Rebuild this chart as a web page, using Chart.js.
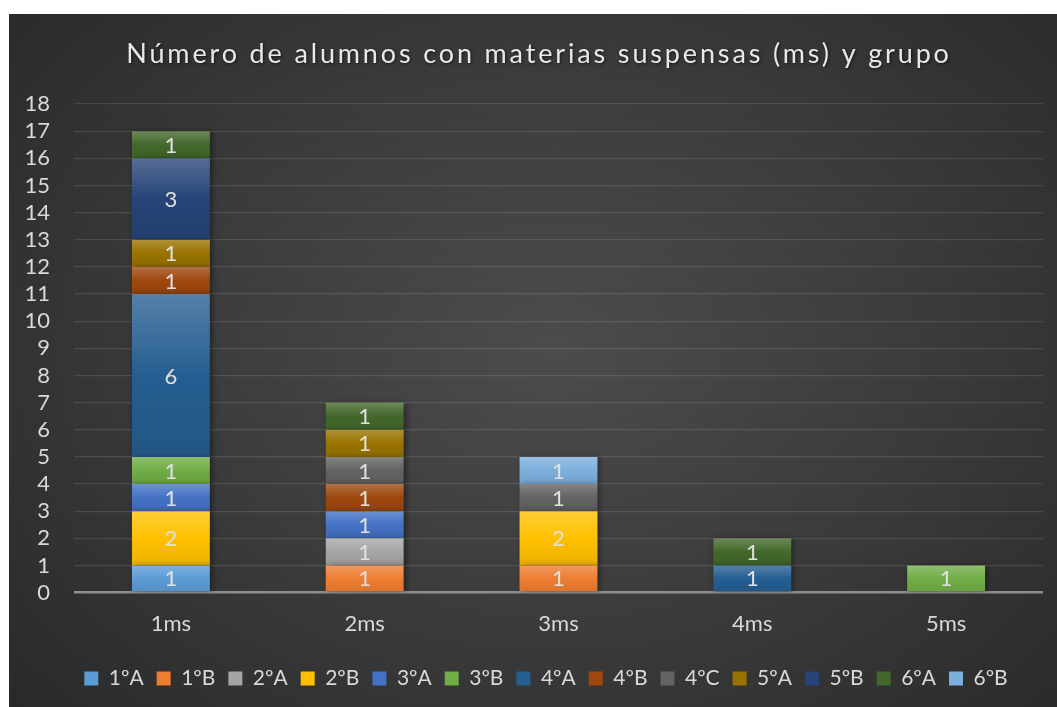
<!DOCTYPE html>
<html>
<head>
<meta charset="utf-8">
<script src="https://cdn.jsdelivr.net/npm/chart.js@4.4.1/dist/chart.umd.min.js"></script>
<style>
  html, body { margin: 0; padding: 0; background: #ffffff; }
  #wrap {
    position: absolute; left: 9px; top: 14px; width: 1048px; height: 693px;
    background: radial-gradient(ellipse 75% 85% at 52% 48%, #4c4c4c 0%, #3c3c3c 45%, #262626 100%);
  }
  canvas { display: block; }
</style>
</head>
<body>
<div id="wrap"><canvas id="c" width="1048" height="693"></canvas></div>
<script>
// ---- Data ----
const chartTitle = "Número de alumnos con materias suspensas (ms) y grupo";
const categories = ["1ms", "2ms", "3ms", "4ms", "5ms"];
const seriesNames = ["1ºA", "1ºB", "2ºA", "2ºB", "3ºA", "3ºB", "4ºA", "4ºB", "4ºC", "5ºA", "5ºB", "6ºA", "6ºB"];
const s1A = [1, 0, 0, 0, 0];
const s1B = [0, 1, 1, 0, 0];
const s2A = [0, 1, 0, 0, 0];
const s2B = [2, 0, 2, 0, 0];
const s3A = [1, 1, 0, 0, 0];
const s3B = [1, 0, 0, 0, 1];
const s4A = [6, 0, 0, 1, 0];
const s4B = [1, 1, 0, 0, 0];
const s4C = [0, 1, 1, 0, 0];
const s5A = [1, 1, 0, 0, 0];
const s5B = [3, 0, 0, 0, 0];
const s6A = [1, 1, 0, 1, 0];
const s6B = [0, 0, 1, 0, 0];
const seriesValues = [s1A, s1B, s2A, s2B, s3A, s3B, s4A, s4B, s4C, s5A, s5B, s6A, s6B];
const yTicks = [0, 1, 2, 3, 4, 5, 6, 7, 8, 9, 10, 11, 12, 13, 14, 15, 16, 17, 18];

// ---- Styles ----
const seriesColors = ["#5B9BD5", "#ED7D31", "#A5A5A5", "#FFC000", "#4472C4", "#70AD47",
                      "#255E91", "#9E480E", "#636363", "#997300", "#264478", "#43682B", "#7CAFDD"];
const FONT = "Lato, 'Open Sans', sans-serif";
const TEXT = "#d9d9d9";

function hexToRgb(h) {
  const n = parseInt(h.slice(1), 16);
  return [(n >> 16) & 255, (n >> 8) & 255, n & 255];
}
function mix(h, target, t) {
  const c = hexToRgb(h);
  return "rgb(" + c.map(v => Math.round(v + (target - v) * t)).join(",") + ")";
}

function barFill(ctx) {
  const base = seriesColors[ctx.datasetIndex];
  const chart = ctx.chart;
  if (ctx.type !== "data" || !chart.chartArea || !chart.scales.y) return base;
  const ds = chart.data.datasets;
  let start = 0;
  for (let k = 0; k < ctx.datasetIndex; k++) start += ds[k].data[ctx.dataIndex] || 0;
  const val = ds[ctx.datasetIndex].data[ctx.dataIndex] || 0;
  if (!val) return base;
  const y = chart.scales.y;
  const top = y.getPixelForValue(start + val);
  const bot = y.getPixelForValue(start);
  const g = chart.ctx.createLinearGradient(0, top, 0, bot);
  g.addColorStop(0, mix(base, 255, 0.22));
  g.addColorStop(0.5, base);
  g.addColorStop(1, mix(base, 0, 0.08));
  return g;
}

const datasets = seriesNames.map((name, i) => ({
  label: name,
  data: seriesValues[i],
  backgroundColor: barFill,
  borderWidth: 0,
  barPercentage: 0.402,
  categoryPercentage: 1.0,
  stack: "s"
}));

const shadowPlugin = {
  id: "barShadow",
  beforeDatasetsDraw(chart) {
    const c = chart.ctx;
    c.save();
    c.shadowColor = "rgba(0,0,0,0.45)";
    c.shadowBlur = 6;
    c.shadowOffsetX = 2;
    c.shadowOffsetY = 1;
  },
  afterDatasetsDraw(chart) {
    chart.ctx.restore();
  }
};

const labelPlugin = {
  id: "valueLabels",
  afterDatasetsDraw(chart) {
    const c = chart.ctx;
    c.save();
    c.font = "22px " + FONT;
    c.fillStyle = "#e0e0e0";
    c.textAlign = "center";
    c.textBaseline = "middle";
    chart.data.datasets.forEach((ds, i) => {
      const meta = chart.getDatasetMeta(i);
      meta.data.forEach((el, j) => {
        const v = ds.data[j];
        if (!v) return;
        c.fillText(String(v), el.x, (el.y + el.base) / 2 + 1);
      });
    });
    c.restore();
  }
};

const titlePlugin = {
  id: "spacedTitle",
  afterDraw(chart) {
    const c = chart.ctx;
    c.save();
    c.font = "27px " + FONT;
    c.fillStyle = "#e8e8e8";
    c.textAlign = "center";
    c.textBaseline = "alphabetic";
    c.letterSpacing = "2.85px";
    c.shadowColor = "rgba(0,0,0,0.6)";
    c.shadowBlur = 3;
    c.shadowOffsetX = 1;
    c.shadowOffsetY = 1;
    c.fillText(chartTitle, chart.width / 2 + 6, 49);
    c.restore();
  }
};

const legendShift = {
  id: "legendShift",
  afterLayout(chart) {
    if (chart.legend) {
      chart.legend.left += 20;
      chart.legend.right += 20;
    }
  }
};

new Chart(document.getElementById("c"), {
  type: "bar",
  data: { labels: categories, datasets: datasets },
  plugins: [shadowPlugin, labelPlugin, titlePlugin, legendShift],
  options: {
    responsive: false,
    animation: false,
    layout: { padding: { top: 90, left: 0, right: 14, bottom: 8 } },
    plugins: {
      title: { display: false },
      tooltip: { enabled: false },
      legend: {
        position: "bottom",
        labels: {
          color: TEXT,
          font: { family: FONT, size: 21 },
          boxWidth: 14,
          boxHeight: 14,
          padding: 13,
          generateLabels(chart) {
            return chart.data.datasets.map((ds, i) => ({
              text: ds.label,
              fillStyle: seriesColors[i],
              strokeStyle: seriesColors[i],
              lineWidth: 0,
              hidden: false,
              datasetIndex: i,
              fontColor: TEXT
            }));
          }
        }
      }
    },
    scales: {
      x: {
        stacked: true,
        grid: { display: false, drawTicks: false },
        border: { display: false },
        ticks: { color: TEXT, font: { family: FONT, size: 22 }, padding: 18 }
      },
      y: {
        stacked: true,
        min: 0,
        max: 18,
        afterBuildTicks(axis) { axis.ticks = yTicks.map(v => ({ value: v })); },
        afterFit(axis) { axis.width = 65; },
        grid: {
          drawTicks: false,
          color: ctx => ctx.tick && ctx.tick.value === 0 ? "#8e8e8e" : "rgba(255,255,255,0.11)",
          lineWidth: ctx => ctx.tick && ctx.tick.value === 0 ? 2.5 : 1.2
        },
        border: { display: false },
        ticks: { color: TEXT, font: { family: FONT, size: 22 }, padding: 24, autoSkip: false }
      }
    }
  }
});
</script>
</body>
</html>
